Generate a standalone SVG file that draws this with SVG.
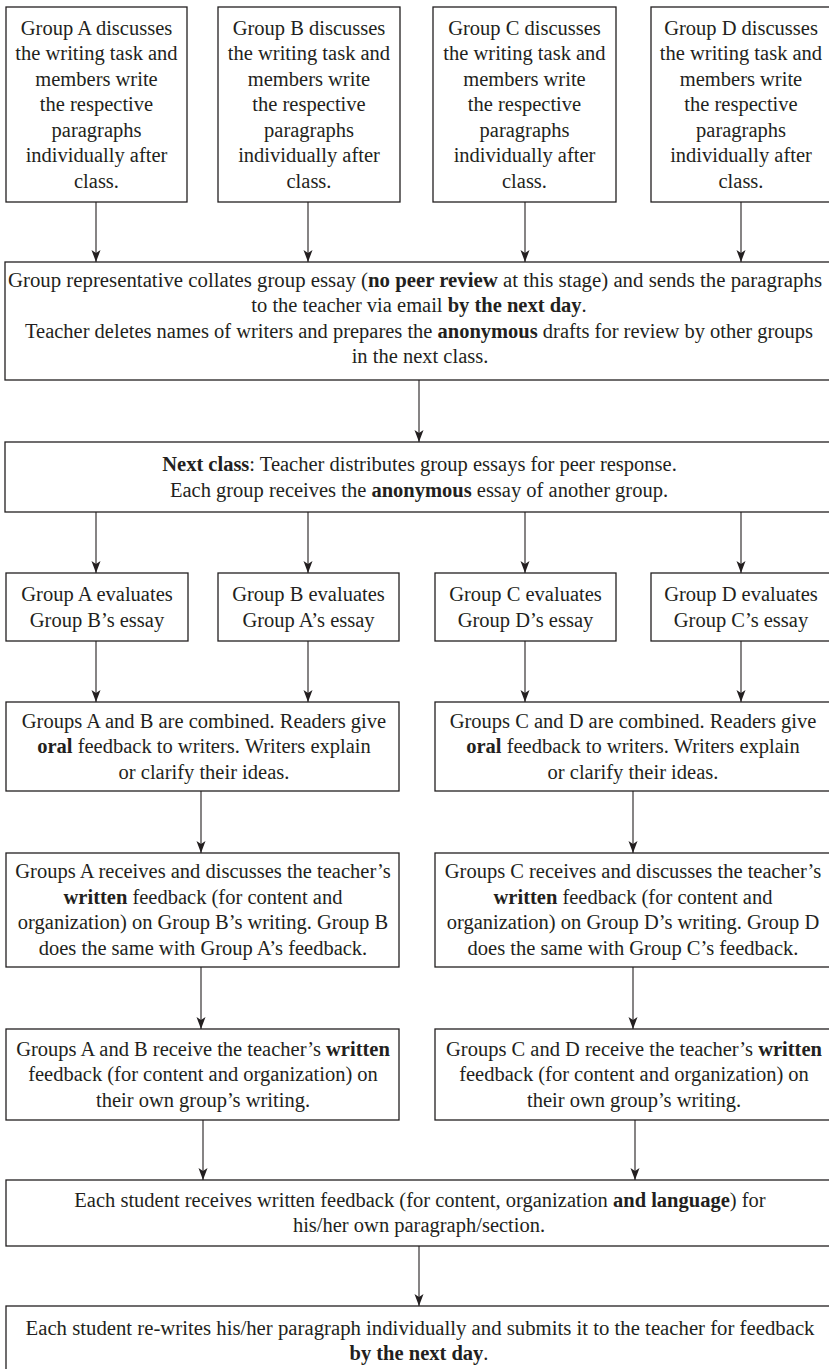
<svg xmlns="http://www.w3.org/2000/svg" width="829" height="1369" viewBox="0 0 829 1369">
<style>
.box{fill:#fff;stroke:#231f20;stroke-width:1.3}
.t{font-family:"Liberation Serif","Times New Roman",serif;font-size:20.5px;fill:#231f20;text-anchor:middle}
.b{font-weight:bold}
.c{stroke:#231f20;stroke-width:1.1;fill:none}
</style>
<defs>
<marker id="ah" markerUnits="userSpaceOnUse" markerWidth="12" markerHeight="12" viewBox="0 0 12 10" refX="12" refY="5" orient="auto">
<path d="M0,0.5 L12,5 L0,9.5 L3,5 z" fill="#231f20"/>
</marker>
</defs>
<rect width="829" height="1369" fill="#fff"/>

<g id="connectors">
<line class="c" x1="96" y1="202" x2="96" y2="262" marker-end="url(#ah)"/>
<line class="c" x1="308" y1="202" x2="308" y2="262" marker-end="url(#ah)"/>
<line class="c" x1="525" y1="202" x2="525" y2="262" marker-end="url(#ah)"/>
<line class="c" x1="741" y1="202" x2="741" y2="262" marker-end="url(#ah)"/>
<line class="c" x1="419" y1="380" x2="419" y2="442" marker-end="url(#ah)"/>
<line class="c" x1="96" y1="512" x2="96" y2="573" marker-end="url(#ah)"/>
<line class="c" x1="308" y1="512" x2="308" y2="573" marker-end="url(#ah)"/>
<line class="c" x1="525" y1="512" x2="525" y2="573" marker-end="url(#ah)"/>
<line class="c" x1="741" y1="512" x2="741" y2="573" marker-end="url(#ah)"/>
<line class="c" x1="96" y1="641" x2="96" y2="702" marker-end="url(#ah)"/>
<line class="c" x1="308" y1="641" x2="308" y2="702" marker-end="url(#ah)"/>
<line class="c" x1="525" y1="641" x2="525" y2="702" marker-end="url(#ah)"/>
<line class="c" x1="741" y1="641" x2="741" y2="702" marker-end="url(#ah)"/>
<line class="c" x1="201" y1="791" x2="201" y2="853" marker-end="url(#ah)"/>
<line class="c" x1="633" y1="791" x2="633" y2="853" marker-end="url(#ah)"/>
<line class="c" x1="201" y1="967" x2="201" y2="1029" marker-end="url(#ah)"/>
<line class="c" x1="633" y1="967" x2="633" y2="1029" marker-end="url(#ah)"/>
<line class="c" x1="203" y1="1120" x2="203" y2="1180" marker-end="url(#ah)"/>
<line class="c" x1="635" y1="1120" x2="635" y2="1180" marker-end="url(#ah)"/>
<line class="c" x1="419" y1="1246" x2="419" y2="1306" marker-end="url(#ah)"/>
</g>

<g id="nodeTopA">
<rect class="box" x="6" y="7" width="181" height="195"/>
<text class="t"><tspan x="96.5" y="34.5">Group A discusses</tspan><tspan x="96.5" y="60">the writing task and</tspan><tspan x="96.5" y="85.5">members write</tspan><tspan x="96.5" y="111">the respective</tspan><tspan x="96.5" y="136.5">paragraphs</tspan><tspan x="96.5" y="162">individually after</tspan><tspan x="96.5" y="187.5">class.</tspan></text>
</g>
<g id="nodeTopB">
<rect class="box" x="218" y="7" width="182" height="195"/>
<text class="t"><tspan x="309" y="34.5">Group B discusses</tspan><tspan x="309" y="60">the writing task and</tspan><tspan x="309" y="85.5">members write</tspan><tspan x="309" y="111">the respective</tspan><tspan x="309" y="136.5">paragraphs</tspan><tspan x="309" y="162">individually after</tspan><tspan x="309" y="187.5">class.</tspan></text>
</g>
<g id="nodeTopC">
<rect class="box" x="433" y="7" width="183" height="195"/>
<text class="t"><tspan x="524.5" y="34.5">Group C discusses</tspan><tspan x="524.5" y="60">the writing task and</tspan><tspan x="524.5" y="85.5">members write</tspan><tspan x="524.5" y="111">the respective</tspan><tspan x="524.5" y="136.5">paragraphs</tspan><tspan x="524.5" y="162">individually after</tspan><tspan x="524.5" y="187.5">class.</tspan></text>
</g>
<g id="nodeTopD">
<rect class="box" x="651" y="7" width="185" height="195"/>
<text class="t"><tspan x="741" y="34.5">Group D discusses</tspan><tspan x="741" y="60">the writing task and</tspan><tspan x="741" y="85.5">members write</tspan><tspan x="741" y="111">the respective</tspan><tspan x="741" y="136.5">paragraphs</tspan><tspan x="741" y="162">individually after</tspan><tspan x="741" y="187.5">class.</tspan></text>
</g>

<g id="nodeCollate">
<rect class="box" x="5" y="262" width="832" height="118"/>
<text class="t" x="415" y="286.5" textLength="814" lengthAdjust="spacingAndGlyphs">Group representative collates group essay (<tspan class="b">no peer review</tspan> at this stage) and sends the paragraphs</text>
<text class="t" x="419" y="312">to the teacher via email <tspan class="b">by the next day</tspan>.</text>
<text class="t" x="419" y="337.5" textLength="788" lengthAdjust="spacingAndGlyphs">Teacher deletes names of writers and prepares the <tspan class="b">anonymous</tspan> drafts for review by other groups</text>
<text class="t" x="420" y="363">in the next class.</text>
</g>

<g id="nodeNextClass">
<rect class="box" x="5" y="442" width="832" height="70"/>
<text class="t" x="419.5" y="471"><tspan class="b">Next class</tspan>: Teacher distributes group essays for peer response.</text>
<text class="t" x="419" y="496.5">Each group receives the <tspan class="b">anonymous</tspan> essay of another group.</text>
</g>

<g id="nodeEvalA">
<rect class="box" x="6" y="573" width="182" height="68"/>
<text class="t"><tspan x="97" y="601">Group A evaluates</tspan><tspan x="97" y="626.5">Group B’s essay</tspan></text>
</g>
<g id="nodeEvalB">
<rect class="box" x="218" y="573" width="181" height="68"/>
<text class="t"><tspan x="308.5" y="601">Group B evaluates</tspan><tspan x="308.5" y="626.5">Group A’s essay</tspan></text>
</g>
<g id="nodeEvalC">
<rect class="box" x="435" y="573" width="181" height="68"/>
<text class="t"><tspan x="525.5" y="601">Group C evaluates</tspan><tspan x="525.5" y="626.5">Group D’s essay</tspan></text>
</g>
<g id="nodeEvalD">
<rect class="box" x="651" y="573" width="185" height="68"/>
<text class="t"><tspan x="741" y="601">Group D evaluates</tspan><tspan x="741" y="626.5">Group C’s essay</tspan></text>
</g>

<g id="nodeCombinedAB">
<rect class="box" x="6" y="702" width="393" height="89"/>
<text class="t" x="204" y="727.5">Groups A and B are combined. Readers give</text>
<text class="t" x="204" y="753"><tspan class="b">oral</tspan> feedback to writers. Writers explain</text>
<text class="t" x="204" y="778.5">or clarify their ideas.</text>
</g>
<g id="nodeCombinedCD">
<rect class="box" x="435" y="702" width="400" height="89"/>
<text class="t" x="633" y="727.5">Groups C and D are combined. Readers give</text>
<text class="t" x="633" y="753"><tspan class="b">oral</tspan> feedback to writers. Writers explain</text>
<text class="t" x="633" y="778.5">or clarify their ideas.</text>
</g>

<g id="nodeWrittenAB">
<rect class="box" x="6" y="853" width="393" height="114"/>
<text class="t" x="203" y="878">Groups A receives and discusses the teacher’s</text>
<text class="t" x="203" y="904"><tspan class="b">written</tspan> feedback (for content and</text>
<text class="t" x="203" y="929">organization) on Group B’s writing. Group B</text>
<text class="t" x="203" y="955">does the same with Group A’s feedback.</text>
</g>
<g id="nodeWrittenCD">
<rect class="box" x="435" y="853" width="400" height="114"/>
<text class="t" x="633" y="878">Groups C receives and discusses the teacher’s</text>
<text class="t" x="633" y="904"><tspan class="b">written</tspan> feedback (for content and</text>
<text class="t" x="633" y="929">organization) on Group D’s writing. Group D</text>
<text class="t" x="633" y="955">does the same with Group C’s feedback.</text>
</g>

<g id="nodeReceiveAB">
<rect class="box" x="6" y="1029" width="393" height="91"/>
<text class="t" x="203" y="1055.5">Groups A and B receive the teacher’s <tspan class="b">written</tspan></text>
<text class="t" x="203" y="1081">feedback (for content and organization) on</text>
<text class="t" x="203" y="1106.5">their own group’s writing.</text>
</g>
<g id="nodeReceiveCD">
<rect class="box" x="435" y="1029" width="400" height="91"/>
<text class="t" x="634" y="1055.5">Groups C and D receive the teacher’s <tspan class="b">written</tspan></text>
<text class="t" x="634" y="1081">feedback (for content and organization) on</text>
<text class="t" x="634" y="1106.5">their own group’s writing.</text>
</g>

<g id="nodeEachStudent">
<rect class="box" x="6" y="1180" width="831" height="66"/>
<text class="t" x="420" y="1206.5">Each student receives written feedback (for content, organization <tspan class="b">and language</tspan>) for</text>
<text class="t" x="419" y="1232">his/her own paragraph/section.</text>
</g>

<g id="nodeRewrite">
<rect class="box" x="6" y="1306" width="831" height="80"/>
<text class="t" x="420" y="1334.5" textLength="789" lengthAdjust="spacingAndGlyphs">Each student re-writes his/her paragraph individually and submits it to the teacher for feedback</text>
<text class="t" x="419" y="1360"><tspan class="b">by the next day</tspan>.</text>
</g>
</svg>
